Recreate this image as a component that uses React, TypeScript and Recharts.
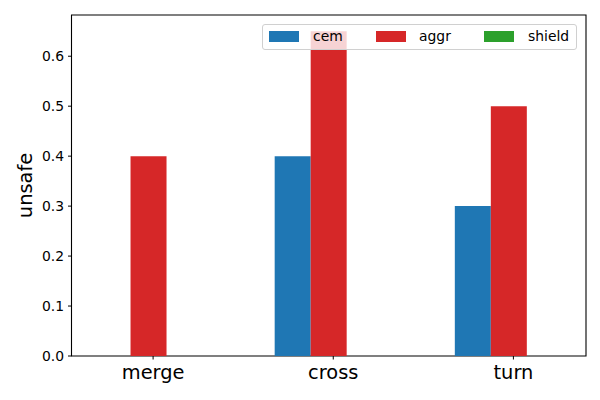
import React from 'react';
import { BarChart, Bar, XAxis, YAxis, Legend, ReferenceArea, Label } from 'recharts';

// values
const categories = ['merge', 'cross', 'turn'];
const cem = [0, 0.4, 0.3];
const aggr = [0.4, 0.65, 0.5];
const shield = [0, 0, 0];
const yTicks = [0, 0.1, 0.2, 0.3, 0.4, 0.5, 0.6];

const series = [
  { key: 'cem', color: '#1f77b4' },
  { key: 'aggr', color: '#d62728' },
  { key: 'shield', color: '#2ca02c' },
];

const data = categories.map((name, i) => ({
  pos: i,
  name,
  cem: cem[i],
  aggr: aggr[i],
  shield: shield[i],
}));

const xMin = -0.428;
const xMax = 2.428;
const yMax = 0.6825;
const font = 'DejaVu Sans, sans-serif';

const patchLeft = [6, 113, 221];
const textLeft = [50, 156, 265];

const renderLegend = () => (
  <div
    style={{
      width: 315,
      height: 26,
      boxSizing: 'border-box',
      border: '1px solid #d0d0d0',
      borderRadius: 3,
      background: 'rgba(255,255,255,0.8)',
      position: 'relative',
      fontFamily: font,
      fontSize: 13.9,
      color: '#000',
    }}
  >
    {series.map((s, i) => (
      <React.Fragment key={s.key}>
        <div
          style={{
            position: 'absolute',
            left: patchLeft[i],
            top: 6,
            width: 30,
            height: 10.5,
            background: s.color,
          }}
        />
        <div style={{ position: 'absolute', left: textLeft[i], top: 3, lineHeight: '17px' }}>{s.key}</div>
      </React.Fragment>
    ))}
  </div>
);

const App: React.FC = () => {
  return (
    <div style={{ position: 'absolute', left: 0, top: 0, width: 600, height: 400, background: '#fff' }}>
      <BarChart
        width={600}
        height={400}
        data={data}
        margin={{ top: 15, right: 14, bottom: 0, left: 0 }}
        barGap={0}
        barCategoryGap={0}
      >
        <XAxis
          dataKey="pos"
          type="number"
          domain={[xMin, xMax]}
          ticks={[0.025, 1.025, 2.025]}
          tickFormatter={(v: number) => categories[Math.round(v)]}
          allowDataOverflow
          height={44}
          axisLine={false}
          tickSize={3.5}
          tickMargin={6}
          tickLine={{ stroke: '#000' }}
          tick={{ fill: '#000', fontSize: 19.4, fontFamily: font }}
        />
        <YAxis
          type="number"
          domain={[0, yMax]}
          ticks={yTicks}
          tickFormatter={(v: number) => v.toFixed(1)}
          allowDataOverflow
          width={71.5}
          axisLine={false}
          tickSize={3.5}
          tickMargin={4}
          tickLine={{ stroke: '#000' }}
          tick={{ fill: '#000', fontSize: 13.9, fontFamily: font }}
        >
          <Label
            content={() => (
              <text
                x={25}
                y={185.5}
                transform="rotate(-90 25 185.5)"
                textAnchor="middle"
                dominantBaseline="central"
                fontSize={19.4}
                fontFamily={font}
                fill="#000"
              >
                unsafe
              </text>
            )}
          />
        </YAxis>
        {series.map((s) => (
          <Bar key={s.key} dataKey={s.key} fill={s.color} barSize={36} isAnimationActive={false} />
        ))}
        <ReferenceArea
          x1={xMin}
          x2={xMax}
          y1={0}
          y2={yMax}
          fill="none"
          stroke="#000"
          strokeWidth={1.1}
          fillOpacity={0}
          ifOverflow="visible"
        />
        <Legend
          layout="horizontal"
          verticalAlign="middle"
          align="center"
          content={renderLegend}
          wrapperStyle={{ position: 'absolute', top: 24, left: 262, width: 315, height: 26 }}
        />
      </BarChart>
    </div>
  );
};

export default App;
